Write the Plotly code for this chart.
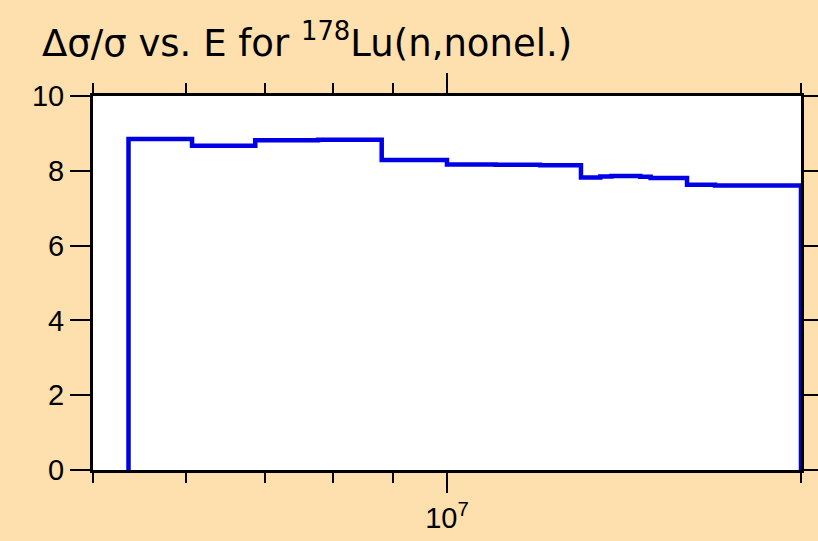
import plotly.graph_objects as go

# Bin edges (eV) and relative uncertainty values (%)
edges = [5.36e6, 6.07e6, 6.87e6, 7.77e6, 8.80e6, 1.00e7, 1.10e7, 1.20e7, 1.30e7,
         1.35e7, 1.38e7, 1.46e7, 1.49e7, 1.60e7, 1.69e7, 2.00e7]
values = [8.85, 8.67, 8.82, 8.83, 8.29, 8.17, 8.16, 8.15, 7.82,
          7.85, 7.86, 7.84, 7.81, 7.63, 7.61]

y_ticks = [0, 2, 4, 6, 8, 10]
x_major = [1e7]
x_major_text = ["10<sup>7</sup>"]
x_minor = [5e6, 6e6, 7e6, 8e6, 9e6, 2e7]

xs = [edges[0]] + edges
ys = [0] + values + [0]

fig = go.Figure()
fig.add_trace(go.Scatter(x=xs, y=ys, mode="lines", line=dict(shape="hv", color="#0000E6", width=4.5),
                         showlegend=False, hoverinfo="skip"))

font_family = "Liberation Sans, Arial, sans-serif"
fig.update_layout(
    width=818, height=541, autosize=False,
    paper_bgcolor="#FEDFAE", plot_bgcolor="white",
    margin=dict(l=93, r=17, t=96, b=71, autoexpand=False),
    title=dict(text="Δσ/σ vs. E for <sup>178</sup>Lu(n,nonel.)",
               x=42 / 818, xanchor="left", y=1 - 56 / 541, yanchor="bottom",
               font=dict(family="DejaVu Sans, sans-serif", size=37, color="black")),
    font=dict(family=font_family, color="black"),
)
fig.update_xaxes(type="log", range=[6.69897, 7.30103], showgrid=False, zeroline=False,
                 automargin=False,
                 showline=True, linecolor="black", linewidth=3, mirror="allticks",
                 tickmode="array", tickvals=x_major, ticktext=x_major_text,
                 ticks="outside", ticklen=20, tickwidth=2, tickcolor="black",
                 tickfont=dict(size=29, family=font_family),
                 minor=dict(tickmode="array", tickvals=x_minor, ticks="outside", ticklen=10,
                            tickwidth=2, tickcolor="black", showgrid=False))
fig.update_yaxes(range=[0, 10], showgrid=False, zeroline=False,
                 automargin=False,
                 showline=True, linecolor="black", linewidth=3, mirror="allticks",
                 tickmode="array", tickvals=y_ticks,
                 ticks="outside", ticklen=20, tickwidth=2, tickcolor="black",
                 tickfont=dict(size=29, family=font_family))

fig.write_html("out.html",
               config={"responsive": False, "displayModeBar": False},
               post_script="document.body.style.margin='0';document.body.style.overflow='hidden';")
